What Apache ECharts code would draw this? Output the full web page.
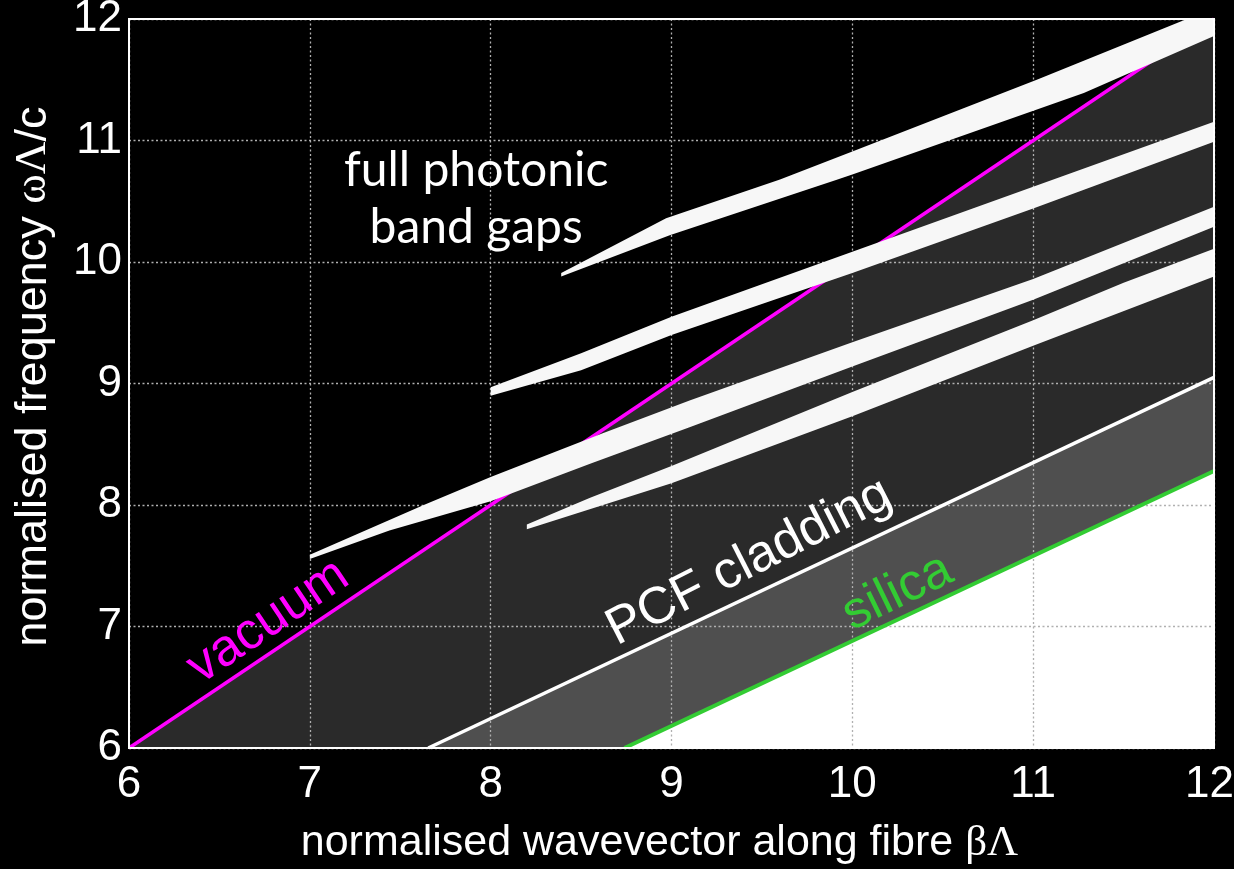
<!DOCTYPE html>
<html>
<head>
<meta charset="utf-8">
<script src="https://cdn.jsdelivr.net/npm/echarts@6/dist/echarts.min.js"></script>
<style>
html,body{margin:0;padding:0;background:#000;}
#c{width:1234px;height:869px;}
</style>
</head>
<body>
<div id="c"></div>
<script>
// ---- data ----
const xMin = 6, xMax = 12, yMin = 6, yMax = 12;

const vacuumLine = [[6, 6], [12, 12]];
const pcfLine = [[7.655, 6], [12, 9.05]];
const silicaLine = [[8.74, 6], [12, 8.28]];

const gap1Upper = [[8.39, 9.91], [8.97, 10.36], [9.6, 10.68], [10, 10.91], [11.02, 11.5], [11.85, 12], [12, 12]];
const gap1Lower = [[8.39, 9.88], [8.99, 10.22], [9.91, 10.675], [10, 10.72], [11.28, 11.39], [12, 11.86]];

const gap2Upper = [[8.0, 8.97], [8.5, 9.25], [9.0, 9.55], [10, 10.085], [11, 10.62], [12, 11.155]];
const gap2Lower = [[8.0, 8.90], [8.5, 9.11], [9.0, 9.40], [10, 9.91], [11, 10.44], [12, 10.99]];

const gap3Upper = [[7.0, 7.59], [7.63, 8.0], [8.0, 8.23], [8.62, 8.59], [9.1, 8.86], [10, 9.34], [11, 9.86], [12, 10.455]];
const gap3Lower = [[7.0, 7.555], [7.44, 7.79], [8.0, 8.03], [8.55, 8.34], [9.1, 8.64], [10, 9.14], [11, 9.69], [12, 10.29]];

const gap4Upper = [[8.2, 7.84], [8.55, 8.06], [9.0, 8.32], [10, 8.93], [11, 9.52], [11.5, 9.83], [12, 10.11]];
const gap4Lower = [[8.2, 7.80], [9.0, 8.18], [10, 8.73], [11, 9.31], [12, 9.88]];

const regionBelowVacuum = [[6, 6], [12, 12], [12, 6]];
const regionBelowPcf = [[7.655, 6], [12, 9.05], [12, 6]];
const regionBelowSilica = [[8.74, 6], [12, 8.28], [12, 6]];

// annotations: [beta, omega, text, rotation(deg)]
const annGap = [7.92, 10.52, 'full photonic\nband gaps', 0];
const annVacuum = [6.77, 7.04, 'vacuum', 34];
const annPcf = [9.43, 7.53, 'PCF cladding', 27];
const annSilica = [10.25, 7.28, 'silica', 26];

// ---- helpers ----
function polySeries(points, color, z) {
  return {
    type: 'custom',
    z: z,
    silent: true,
    data: points,
    renderItem: function (params, api) {
      if (params.dataIndex !== 0) return;
      const pts = points.map(p => api.coord(p));
      return { type: 'polygon', shape: { points: pts }, style: { fill: color, stroke: null } };
    }
  };
}
function band(upper, lower) {
  return upper.concat(lower.slice().reverse());
}
function lineSeries(points, color, width, z) {
  return {
    type: 'line', data: points, showSymbol: false, silent: true, z: z,
    lineStyle: { color: color, width: width }, animation: false
  };
}
function textSeries(ann, color, fontSize, family, lineHeight) {
  return {
    type: 'custom', z: 20, silent: true,
    data: [[ann[0], ann[1]]],
    renderItem: function (params, api) {
      const c = api.coord([ann[0], ann[1]]);
      return {
        type: 'text', x: c[0], y: c[1], rotation: ann[3] * Math.PI / 180,
        style: {
          text: ann[2], fill: color, fontSize: fontSize, fontFamily: family,
          align: 'center', verticalAlign: 'middle', lineHeight: lineHeight || fontSize
        }
      };
    }
  };
}

const chart = echarts.init(document.getElementById('c'), null, { renderer: 'canvas' });
const serifRich = (fs) => ({
  t: { fontSize: fs, fontFamily: 'Liberation Sans', color: '#fff' },
  g: { fontSize: fs, fontFamily: 'Liberation Serif', color: '#fff' }
});
chart.setOption({
  backgroundColor: '#000',
  animation: false,
  grid: {
    left: 129, right: 20, top: 19, bottom: 121, show: true, z: 30,
    outerBoundsMode: 'none', containLabel: false,
    backgroundColor: 'transparent', borderColor: '#fff', borderWidth: 2
  },
  xAxis: {
    type: 'value', min: xMin, max: xMax, interval: 1, z: 3,
    axisLine: { show: false }, axisTick: { show: false },
    axisLabel: {
      color: '#fff', fontSize: 44, fontFamily: 'Liberation Sans', margin: 15,
      formatter: v => (v === xMax ? '{r|' + v + '}' : String(v)),
      rich: { r: { color: '#fff', fontSize: 44, fontFamily: 'Liberation Sans', padding: [0, 9, 0, 0] } }
    },
    splitLine: { show: true, lineStyle: { color: '#b0b0b0', width: 1.3, type: [2, 2.5] } },
    name: '{t|normalised wavevector along fibre }{g|βΛ}',
    nameLocation: 'middle', nameGap: 74,
    nameTextStyle: { color: '#fff', fontSize: 43, fontFamily: 'Liberation Sans', rich: serifRich(43), padding: [0, 24, 0, 0] }
  },
  yAxis: {
    type: 'value', min: yMin, max: yMax, interval: 1, z: 3,
    axisLine: { show: false }, axisTick: { show: false },
    axisLabel: { color: '#fff', fontSize: 44, fontFamily: 'Liberation Sans', margin: 7 },
    splitLine: { show: true, lineStyle: { color: '#b0b0b0', width: 1.3, type: [2, 2.5] } },
    name: '{t|normalised frequency }{g|ωΛ}{t|/c}',
    nameLocation: 'middle', nameGap: 73,
    nameTextStyle: { color: '#fff', fontSize: 45, fontFamily: 'Liberation Sans', rich: serifRich(45), padding: [0, 0, 0, 14] }
  },
  series: [
    polySeries(regionBelowVacuum, '#2a2a2a', 1),
    polySeries(regionBelowPcf, '#4f4f4f', 1),
    polySeries(regionBelowSilica, '#ffffff', 1),
    lineSeries(vacuumLine, '#ff00ff', 3.5, 5),
    lineSeries(pcfLine, '#ffffff', 3.5, 5),
    lineSeries(silicaLine, '#33cc33', 4, 5),
    polySeries(band(gap1Upper, gap1Lower), '#f7f7f7', 8),
    polySeries(band(gap2Upper, gap2Lower), '#f7f7f7', 8),
    polySeries(band(gap3Upper, gap3Lower), '#f7f7f7', 8),
    polySeries(band(gap4Upper, gap4Lower), '#f7f7f7', 8),
    textSeries(annGap, '#ffffff', 48, 'Lato', 57),
    textSeries(annVacuum, '#ff00ff', 52, 'Liberation Sans'),
    textSeries(annPcf, '#ffffff', 52, 'Liberation Sans'),
    textSeries(annSilica, '#33cc33', 52, 'Liberation Sans')
  ]
});
</script>
</body>
</html>
